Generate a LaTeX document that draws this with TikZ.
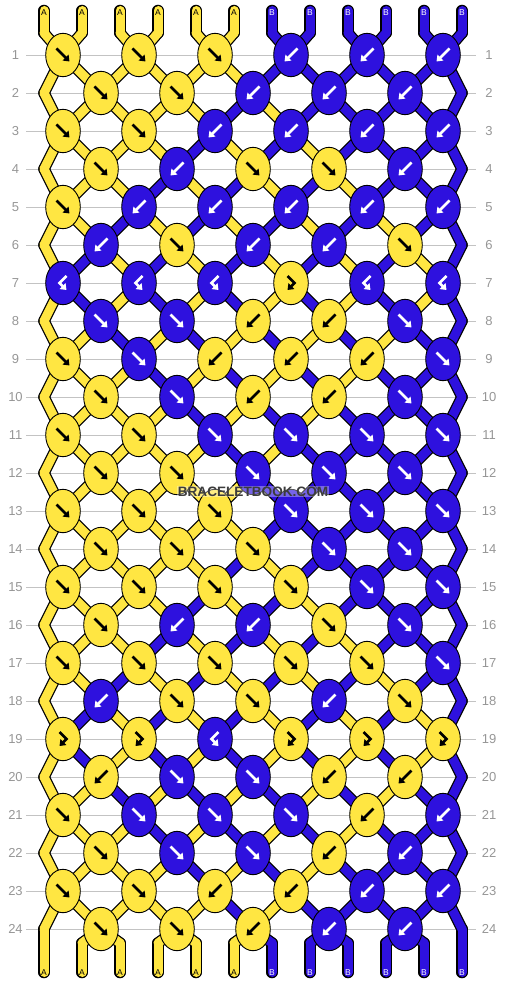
\documentclass[tikz,border=0pt]{standalone}
\usepackage{fontspec}
\setmainfont{Liberation Sans}
\usetikzlibrary{shapes.geometric,arrows.meta,backgrounds}

\definecolor{yarnA}{RGB}{255,230,66}
\definecolor{yarnB}{RGB}{46,17,222}
\colorlet{inkA}{black}
\colorlet{inkB}{white}
\definecolor{rowgray}{RGB}{195,195,195}
\definecolor{numgray}{RGB}{150,150,150}
\definecolor{markgray}{RGB}{60,60,60}

% thread colours leaving row r, positions 0..11
\newcommand\yarnrows{%
  0/{A,A,A,A,A,A,B,B,B,B,B,B},%
  1/{A,A,A,A,A,A,B,B,B,B,B,B},%
  2/{A,A,A,A,A,B,A,B,B,B,B,B},%
  3/{A,A,A,A,B,A,B,A,B,B,B,B},%
  4/{A,A,A,B,A,B,A,B,A,B,B,B},%
  5/{A,A,B,A,B,A,B,A,B,A,B,B},%
  6/{A,B,A,B,A,B,A,B,A,B,A,B},%
  7/{A,B,A,B,A,B,A,B,A,B,A,B},%
  8/{A,A,B,A,B,A,B,A,B,A,B,B},%
  9/{A,A,A,B,A,B,A,B,A,B,B,B},%
  10/{A,A,A,A,B,A,B,A,B,B,B,B},%
  11/{A,A,A,A,A,B,A,B,B,B,B,B},%
  12/{A,A,A,A,A,A,B,B,B,B,B,B},%
  13/{A,A,A,A,A,A,B,B,B,B,B,B},%
  14/{A,A,A,A,A,B,A,B,B,B,B,B},%
  15/{A,A,A,A,B,A,B,A,B,B,B,B},%
  16/{A,A,A,B,A,B,A,B,A,B,B,B},%
  17/{A,A,B,A,B,A,B,A,B,A,B,B},%
  18/{A,B,A,B,A,B,A,B,A,B,A,B},%
  19/{A,B,A,B,A,B,A,B,A,B,A,B},%
  20/{A,A,B,A,B,A,B,A,B,A,B,B},%
  21/{A,A,A,B,A,B,A,B,A,B,B,B},%
  22/{A,A,A,A,B,A,B,A,B,B,B,B},%
  23/{A,A,A,A,A,B,A,B,B,B,B,B},%
  24/{A,A,A,A,A,A,B,B,B,B,B,B}}
\newcommand\yarnends{0/A,1/A,2/A,3/A,4/A,5/A,6/B,7/B,8/B,9/B,10/B,11/B}

\tikzset{
  knot/.style={ellipse,draw=black,line width=0.9pt,minimum width=34.6pt,
    minimum height=43.4pt,inner sep=0pt},
  glyph/.style={line width=2.6pt,-{Triangle[length=5.5pt,width=8pt]}},
  fw/.pic={\draw[glyph] (-6.5,-6.5) -- (6.5,6.5);},
  bw/.pic={\draw[glyph] (6.5,-6.5) -- (-6.5,6.5);},
  fwbw/.pic={\draw[glyph] (-3.5,-7) -- (3.5,0) -- (-3.5,7);},
  bwfw/.pic={\draw[glyph] (3.5,-7) -- (-3.5,0) -- (3.5,7);},
  yarnedge/.style={line width=11.5pt,line cap=round,black},
  yarn/.style={line width=9pt,line cap=round},
  rowline/.style={rowgray,line width=0.8pt},
  rownum/.style={numgray,inner sep=0pt,font=\fontsize{13}{13}\selectfont},
  endlabel/.style={inner sep=0pt,font=\fontsize{8.5}{8.5}\selectfont},
  watermark/.style={inner sep=1pt,fill=white,fill opacity=.35,text opacity=1,
    font=\bfseries\fontsize{13.6}{13.6}\selectfont}
}

\begin{document}
\begin{tikzpicture}[x=1pt,y=-1pt]
\useasboundingbox (0,0) rectangle (506,984);

% knots: colour/type
\foreach \r/\knots in {
  1/{A/fw,A/fw,A/fw,B/bw,B/bw,B/bw},
  2/{A/fw,A/fw,B/bw,B/bw,B/bw},
  3/{A/fw,A/fw,B/bw,B/bw,B/bw,B/bw},
  4/{A/fw,B/bw,A/fw,A/fw,B/bw},
  5/{A/fw,B/bw,B/bw,B/bw,B/bw,B/bw},
  6/{B/bw,A/fw,B/bw,B/bw,A/fw},
  7/{B/bwfw,B/bwfw,B/bwfw,A/fwbw,B/bwfw,B/bwfw},
  8/{B/fw,B/fw,A/bw,A/bw,B/fw},
  9/{A/fw,B/fw,A/bw,A/bw,A/bw,B/fw},
  10/{A/fw,B/fw,A/bw,A/bw,B/fw},
  11/{A/fw,A/fw,B/fw,B/fw,B/fw,B/fw},
  12/{A/fw,A/fw,B/fw,B/fw,B/fw},
  13/{A/fw,A/fw,A/fw,B/fw,B/fw,B/fw},
  14/{A/fw,A/fw,A/fw,B/fw,B/fw},
  15/{A/fw,A/fw,A/fw,A/fw,B/fw,B/fw},
  16/{A/fw,B/bw,B/bw,A/fw,B/fw},
  17/{A/fw,A/fw,A/fw,A/fw,A/fw,B/fw},
  18/{B/bw,A/fw,A/fw,B/bw,A/fw},
  19/{A/fwbw,A/fwbw,B/bwfw,A/fwbw,A/fwbw,A/fwbw},
  20/{A/bw,B/fw,B/fw,A/bw,A/bw},
  21/{A/fw,B/fw,B/fw,B/fw,A/bw,B/bw},
  22/{A/fw,B/fw,B/fw,A/bw,B/bw},
  23/{A/fw,A/fw,A/bw,A/bw,B/bw,B/bw},
  24/{A/fw,A/fw,A/bw,B/bw,B/bw}}{
  \pgfmathtruncatemacro\odd{isodd(\r)}
  \foreach \col/\typ [count=\c] in \knots {
    \node[knot,fill=yarn\col] (k-\r-\c) at ({63+38*(1-\odd)+76*(\c-1)},{55+38*(\r-1)}) {};
    \pic[color=ink\col] at (k-\r-\c) {\typ};
    \pgfmathtruncatemacro\pa{2*\c-1-\odd}
    \pgfmathtruncatemacro\pb{2*\c-\odd}
    \pgfnodealias{s-\r-\pa}{k-\r-\c}
    \pgfnodealias{s-\r-\pb}{k-\r-\c}
  }
}

% edge turns and thread ends
\foreach \r in {2,4,...,24}{
  \coordinate (s-\r-0) at (44,{55+38*(\r-1)});
  \coordinate (s-\r-11) at (462,{55+38*(\r-1)});
}
\foreach \p in {0,...,11}{
  \coordinate (e-\p) at ({44+38*\p},10.5);
  \coordinate (s-0-\p) at ({44+38*\p},33);
  \coordinate (s-25-\p) at ({44+38*\p},943);
  \coordinate (f-\p) at ({44+38*\p},972.5);
}

\begin{scope}[on background layer]
  \foreach \r in {1,...,24}
    \draw[rowline] (26,{55+38*(\r-1)}) -- (476,{55+38*(\r-1)});
  \foreach \pass in {yarnedge,yarn}{
    \foreach \p/\col in \yarnends{
      \draw[yarn\col,\pass] (e-\p) -- (s-0-\p);
      \draw[yarn\col,\pass] (s-25-\p) -- (f-\p);
    }
    \foreach \r/\st in \yarnrows{
      \pgfmathtruncatemacro\rn{\r+1}
      \foreach \col [count=\p from 0] in \st
        \draw[yarn\col,\pass] (s-\r-\p.center) -- (s-\rn-\p.center);
    }
  }
\end{scope}

\foreach \p/\col in \yarnends{
  \node[endlabel,text=ink\col,yshift=-1.7pt] (top-\p) at (e-\p) {\col};
  \node[endlabel,text=ink\col] (bot-\p) at (f-\p) {\col};
}

\foreach \r in {1,...,24}{
  \node[rownum] (numl-\r) at (15.5,{55+38*(\r-1)}) {\r};
  \node[rownum] (numr-\r) at (489,{55+38*(\r-1)}) {\r};
}

\node[watermark,text=markgray] (mark) at (253,491.5) {BRACELETBOOK.COM};
\end{tikzpicture}
\end{document}
